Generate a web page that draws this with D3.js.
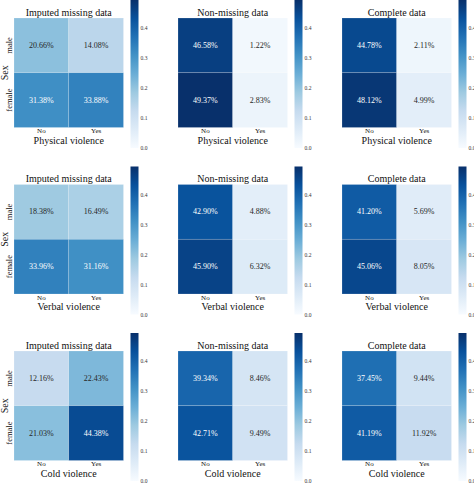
<!DOCTYPE html>
<html>
<head>
<meta charset="utf-8">
<script src="https://cdn.jsdelivr.net/npm/d3@7"></script>
<style>
  html, body { margin: 0; padding: 0; background: #fff; }
  svg { display: block; }
  svg text { font-family: "Liberation Serif", "Times New Roman", Times, serif; }
</style>
</head>
<body>
<svg id="chart" width="474" height="484"></svg>
<script>
// ---- data ----
const violenceTypes = ["Physical violence", "Verbal violence", "Cold violence"];
const datasets = ["Imputed missing data", "Non-missing data", "Complete data"];
const sexes = ["male", "female"];
const answers = ["No", "Yes"];
const colorbarTicks = [0.0, 0.1, 0.2, 0.3, 0.4];
const blues = ["#f7fbff","#deebf7","#c6dbef","#9ecae1","#6baed6","#4292c6","#2171b5","#08519c","#08306b"];

// values in %, order: [male-No, male-Yes, female-No, female-Yes]
const physicalImputed    = [20.66, 14.08, 31.38, 33.88];
const physicalNonMissing = [46.58, 1.22, 49.37, 2.83];
const physicalComplete   = [44.78, 2.11, 48.12, 4.99];
const verbalImputed      = [18.38, 16.49, 33.96, 31.16];
const verbalNonMissing   = [42.90, 4.88, 45.90, 6.32];
const verbalComplete     = [41.20, 5.69, 45.06, 8.05];
const coldImputed        = [12.16, 22.43, 21.03, 44.38];
const coldNonMissing     = [39.34, 8.46, 42.71, 9.49];
const coldComplete       = [37.45, 9.44, 41.19, 11.92];

const panelValues = [
  [physicalImputed, physicalNonMissing, physicalComplete],
  [verbalImputed, verbalNonMissing, verbalComplete],
  [coldImputed, coldNonMissing, coldComplete]
];

// ---- layout ----
const FONT = '"Liberation Serif", "Times New Roman", Times, serif';
const svg = d3.select("#chart");
svg.append("rect").attr("width", 474).attr("height", 484).attr("fill", "#fff");

const colX = [14, 178, 342];
const rowY = [18, 184.5, 351];
const size = 109.5;
const cbW = 8, cbH = 148, cbGap = 116.5, cbTopOff = -18;

const vmax = d3.max(panelValues.flat(2)) / 100;
const color = d3.scaleLinear()
  .domain(blues.map((_, i) => i / (blues.length - 1) * vmax))
  .range(blues)
  .clamp(true);

function lum(c) {
  const rgb = d3.rgb(c);
  const f = v => { v /= 255; return v <= 0.03928 ? v / 12.92 : Math.pow((v + 0.055) / 1.055, 2.4); };
  return 0.2126 * f(rgb.r) + 0.7152 * f(rgb.g) + 0.0722 * f(rgb.b);
}

const defs = svg.append("defs");
const grad = defs.append("linearGradient").attr("id", "cbgrad")
  .attr("x1", 0).attr("y1", 1).attr("x2", 0).attr("y2", 0);
blues.forEach((c, i) => grad.append("stop").attr("offset", i / (blues.length - 1)).attr("stop-color", c));

violenceTypes.forEach((vt, r) => {
  datasets.forEach((ds, c) => {
    const vals = panelValues[r][c];
    const x0 = colX[c], y0 = rowY[r];
    const g = svg.append("g").attr("transform", `translate(${x0},${y0})`);
    const xs = d3.scaleBand().domain(answers).range([0, size]);
    const ys = d3.scaleBand().domain(sexes).range([0, size]);
    const cells = [];
    sexes.forEach((s, i) => answers.forEach((a, j) => cells.push({ s, a, v: vals[i * 2 + j] / 100 })));

    g.selectAll("rect.cell").data(cells).join("rect")
      .attr("class", "cell")
      .attr("x", d => xs(d.a)).attr("y", d => ys(d.s))
      .attr("width", xs.bandwidth()).attr("height", ys.bandwidth())
      .attr("fill", d => color(d.v))
      .attr("stroke", "rgba(255,255,255,0.3)").attr("stroke-width", 0.6);

    g.selectAll("text.ann").data(cells).join("text")
      .attr("class", "ann")
      .attr("x", d => xs(d.a) + xs.bandwidth() / 2)
      .attr("y", d => ys(d.s) + ys.bandwidth() / 2)
      .attr("text-anchor", "middle").attr("dominant-baseline", "central")
      .attr("font-family", FONT).attr("font-size", 8)
      .attr("fill", d => lum(color(d.v)) > 0.408 ? "#262626" : "#ffffff")
      .text(d => (d.v * 100).toFixed(2) + "%");

    g.append("text").attr("x", size / 2).attr("y", -2.5)
      .attr("text-anchor", "middle").attr("font-family", FONT).attr("font-size", 10).attr("fill", "#111")
      .text(ds);

    const xAxis = d3.axisBottom(xs).tickSize(0).tickPadding(0);
    const xg = g.append("g").attr("transform", `translate(0,${size})`).call(xAxis);
    xg.attr("font-family", FONT);
    xg.select(".domain").remove();
    xg.selectAll("text").attr("font-size", 7).attr("font-family", FONT).attr("fill", "#111")
      .attr("dy", 0).attr("y", 5.5);

    g.append("text").attr("x", size / 2).attr("y", size + 16)
      .attr("text-anchor", "middle").attr("font-family", FONT).attr("font-size", 10).attr("fill", "#111")
      .text(vt);

    if (c === 0) {
      const yAxis = d3.axisLeft(ys).tickSize(0).tickPadding(3);
      const yg = g.append("g").call(yAxis);
      yg.attr("font-family", FONT);
      yg.select(".domain").remove();
      yg.selectAll("text")
        .attr("font-size", 8.5).attr("font-family", FONT).attr("fill", "#111")
        .attr("text-anchor", "middle")
        .attr("transform", "rotate(-90)")
        .attr("x", 0).attr("dx", 0).attr("dy", 0)
        .attr("y", -2.5);
      g.append("text")
        .attr("transform", `translate(${-6},${size / 2}) rotate(-90)`)
        .attr("text-anchor", "middle").attr("font-family", FONT).attr("font-size", 10).attr("fill", "#111")
        .text("Sex");
    }

    const cbx = x0 + cbGap, cby = y0 + cbTopOff;
    const cbScale = d3.scaleLinear().domain([0, vmax]).range([cbH, 0]);
    const cg = svg.append("g").attr("transform", `translate(${cbx},${cby})`);
    cg.append("rect").attr("width", cbW).attr("height", cbH).attr("fill", "url(#cbgrad)");
    const cax = cg.append("g").attr("transform", `translate(${cbW},0)`)
      .call(d3.axisRight(cbScale).tickValues(colorbarTicks).tickFormat(d3.format(".1f")).tickSize(0).tickPadding(2));
    cax.attr("font-family", FONT);
    cax.select(".domain").remove();
    cax.selectAll("text").attr("font-size", 5.5).attr("font-family", FONT).attr("fill", "#333");
  });
});
</script>
</body>
</html>
